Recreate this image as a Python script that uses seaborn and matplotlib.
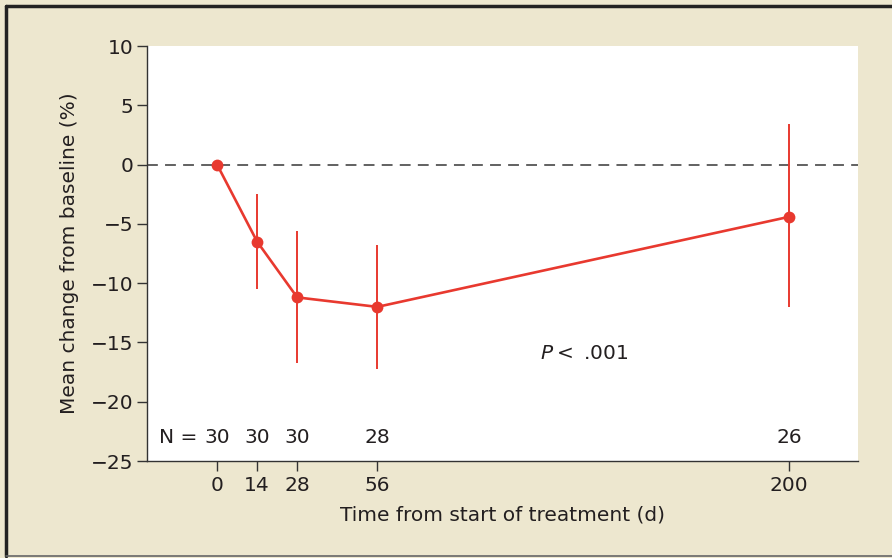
import matplotlib
matplotlib.use("Agg")
import matplotlib.pyplot as plt
import seaborn as sns
import pandas as pd
from matplotlib.lines import Line2D

# values
days = [0, 14, 28, 56, 200]
mean_change = [0.0, -6.5, -11.2, -12.0, -4.4]
err_low = [0.0, -10.5, -16.7, -17.2, -12.0]
err_high = [0.0, -2.5, -5.6, -6.8, 3.4]
n_counts = ["30", "30", "30", "28", "26"]
x_ticks = [0, 14, 28, 56, 200]
y_ticks = [-25, -20, -15, -10, -5, 0, 5, 10]

red = "#E8392F"
dark = "#231F20"
beige = "#EDE7CF"
fs = 14.5

sns.set_theme(style="ticks")
plt.rcParams['font.family'] = ['DejaVu Sans']

df = pd.DataFrame({"day": days, "change": mean_change})

fig = plt.figure(figsize=(8.92, 5.58), dpi=100, facecolor=beige)
ax = fig.add_axes([0.1648, 0.1738, 0.797, 0.7437])
ax.set_facecolor("white")

ax.axhline(0, color="#555555", lw=1.3, ls=(0, (6, 4)), zorder=1)

# error bars (no caps), skip the baseline point
for d, lo, hi in zip(days[1:], err_low[1:], err_high[1:]):
    ax.vlines(d, lo, hi, color=red, lw=1.4, zorder=2)

sns.lineplot(data=df, x="day", y="change", ax=ax, color=red, lw=1.9,
             marker="o", markersize=8.5, markeredgewidth=0, zorder=3)

ax.set_xlim(-24.5, 224)
ax.set_ylim(-25, 10)
ax.set_xticks(x_ticks)
ax.set_yticks(y_ticks)
ax.set_yticklabels([str(v).replace("-", "\u2212") for v in y_ticks])

for s in ["top", "right"]:
    ax.spines[s].set_visible(False)
for s in ["left", "bottom"]:
    ax.spines[s].set_color("#333333")
    ax.spines[s].set_linewidth(1.0)

ax.tick_params(axis="both", direction="out", length=7, width=1.0,
               color="#333333", labelsize=fs, labelcolor=dark)
ax.tick_params(axis="x", pad=4)
ax.tick_params(axis="y", pad=3)

ax.set_xlabel("Time from start of treatment (d)", fontsize=fs, color=dark, labelpad=7)
ax.set_ylabel("Mean change from baseline (%)", fontsize=fs, color=dark, labelpad=8)

# sample sizes
for d, n in zip(days, n_counts):
    ax.text(d, -23.0, n, ha="center", va="center", fontsize=fs, color=dark)
ax.annotate("N =", xy=(days[0], -23.0), xytext=(-14, 0), textcoords="offset points",
            ha="right", va="center", fontsize=fs, color=dark)

ax.text(113, -15.9, r"$\mathit{P}$$<$ .001", ha="left", va="center", fontsize=fs, color=dark)

# frame around the figure
fig.add_artist(Line2D([0.0067, 0.0067], [0.004, 0.9896], transform=fig.transFigure,
                      color="#222222", lw=2.5))
fig.add_artist(Line2D([0.0067, 1.0], [0.9896, 0.9896], transform=fig.transFigure,
                      color="#222222", lw=2.5))
fig.add_artist(Line2D([0.0067, 1.0], [0.004, 0.004], transform=fig.transFigure,
                      color="#666666", lw=1.2))

fig.savefig("out.png", dpi=100, facecolor=beige)
